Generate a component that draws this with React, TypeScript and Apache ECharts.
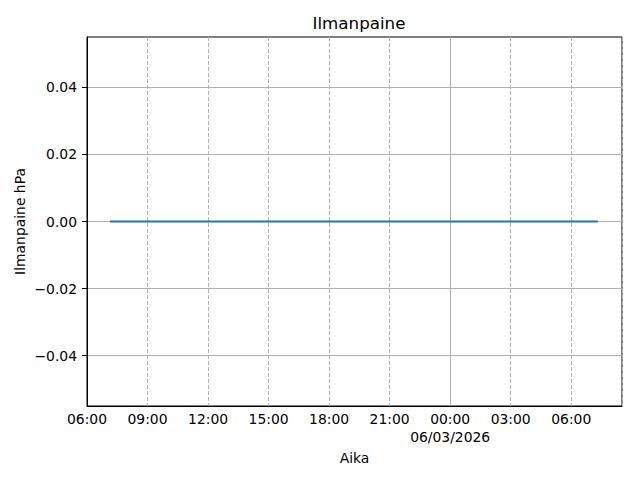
import React, { useEffect, useRef } from "react";
import * as echarts from "echarts";

const title = "Ilmanpaine";
const xName = "Aika";
const yName = "Ilmanpaine hPa";
const times = [
  "2026-03-05 07:08", "2026-03-05 08:08", "2026-03-05 09:08", "2026-03-05 10:08",
  "2026-03-05 11:08", "2026-03-05 12:08", "2026-03-05 13:08", "2026-03-05 14:08",
  "2026-03-05 15:08", "2026-03-05 16:08", "2026-03-05 17:08", "2026-03-05 18:08",
  "2026-03-05 19:08", "2026-03-05 20:08", "2026-03-05 21:08", "2026-03-05 22:08",
  "2026-03-05 23:08", "2026-03-06 00:08", "2026-03-06 01:08", "2026-03-06 02:08",
  "2026-03-06 03:08", "2026-03-06 04:08", "2026-03-06 05:08", "2026-03-06 06:08",
  "2026-03-06 07:08", "2026-03-06 07:19",
];
const pressure = [
  0, 0, 0, 0, 0, 0, 0, 0, 0, 0, 0, 0, 0, 0, 0, 0, 0, 0, 0, 0, 0, 0, 0, 0, 0, 0,
];
const yTicks = [-0.04, -0.02, 0, 0.02, 0.04];
const xMinTime = "2026-03-05 06:00";
const xMaxTime = "2026-03-06 08:31";
const midnightTime = "2026-03-06 00:00";
const dateLabel = "06/03/2026";

const parseT = (s: string) => Date.parse(s.replace(" ", "T") + ":00Z");
const pad = (n: number) => (n < 10 ? "0" + n : "" + n);
const FONT = "DejaVu Sans";

export default function App() {
  const ref = useRef<HTMLDivElement>(null);
  useEffect(() => {
    if (!ref.current) return;
    const chart = echarts.init(ref.current, null, { renderer: "svg" });
    const midnight = parseT(midnightTime);
    chart.setOption({
      animation: false,
      backgroundColor: "#ffffff",
      title: {
        text: title,
        left: 354,
        textAlign: "center",
        top: 9,
        textStyle: { fontFamily: FONT, fontSize: 16.7, fontWeight: "normal", color: "#000" },
      },
      grid: {
        left: 87, right: 18, top: 37, bottom: 74,
        show: true, borderColor: "#000", borderWidth: 1, backgroundColor: "transparent",
      },
      xAxis: {
        type: "value",
        min: parseT(xMinTime),
        max: parseT(xMaxTime),
        interval: 3 * 3600 * 1000,
        name: xName,
        nameLocation: "middle",
        nameGap: 38,
        nameTextStyle: { fontFamily: FONT, fontSize: 13.9, color: "#000" },
        axisLine: { onZero: false, lineStyle: { color: "#000", width: 1 } },
        axisTick: { show: false },
        axisLabel: {
          showMaxLabel: false,
          margin: 4,
          fontFamily: FONT,
          fontSize: 13.9,
          color: "#000",
          lineHeight: 18,
          formatter: (v: number) => {
            const d = new Date(v);
            const s = pad(d.getUTCHours()) + ":" + pad(d.getUTCMinutes());
            return v === midnight ? s + "\n" + dateLabel : s;
          },
        },
        splitLine: { show: true, lineStyle: { color: "#b0b0b0", width: 1, type: [4, 2] } },
      },
      yAxis: {
        type: "value",
        min: -0.055,
        max: 0.055,
        name: yName,
        nameLocation: "middle",
        nameGap: 60,
        nameMoveOverlap: false,
        nameTextStyle: { fontFamily: FONT, fontSize: 13.9, color: "#000" },
        axisLine: { show: true, onZero: false, lineStyle: { color: "#000", width: 1 } },
        axisTick: { show: true, length: 5, customValues: yTicks, lineStyle: { color: "#000" } },
        axisLabel: {
          customValues: yTicks,
          margin: 10,
          fontFamily: FONT,
          fontSize: 13.9,
          color: "#000",
          formatter: (v: number) => {
            const s = Math.abs(v).toFixed(2);
            return v < -1e-9 ? "\u2212" + s : s;
          },
        },
        splitLine: { show: true, lineStyle: { color: "#b0b0b0", width: 1 } },
      },
      series: [
        {
          type: "line",
          data: times.map((t, i) => [parseT(t), pressure[i]]),
          showSymbol: false,
          symbol: "none",
          lineStyle: { color: "#1f77b4", width: 2 },
          z: 3,
          markLine: {
            silent: true,
            symbol: "none",
            label: { show: false },
            lineStyle: { color: "#b0b0b0", width: 1, type: "solid" },
            data: [{ xAxis: midnight }],
            z: 1,
          },
        },
      ],
    });
    return () => chart.dispose();
  }, []);
  return <div ref={ref} style={{ width: 640, height: 480, position: "absolute", left: 0, top: 0 }} />;
}
